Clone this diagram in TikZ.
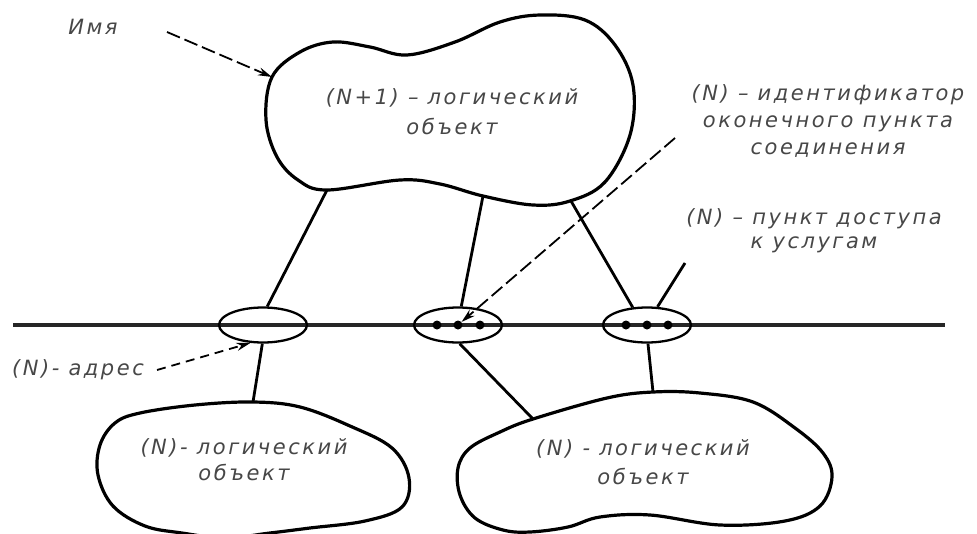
\documentclass[tikz,border=0pt]{standalone}
\usepackage{fontspec}
\setmainfont{DejaVu Sans}
\newfontfamily\lblfont{DejaVu Sans}[LetterSpace=12]
\usetikzlibrary{arrows.meta,shapes.geometric}
\begin{document}
\begin{tikzpicture}[x=1pt,y=-1pt,
  lbl/.style={font=\lblfont\itshape\fontsize{21}{29}\selectfont, text=black!72, align=center, inner sep=0pt},
  blob/.style={line width=3.2pt, line join=round},
  conn/.style={line width=2.8pt},
  ptr/.style={line width=1.8pt, dash pattern=on 14pt off 5pt, -{Stealth[length=14pt,width=8pt]}},
  port/.style={ellipse, draw, line width=2.3pt, minimum width=88pt, minimum height=35pt, inner sep=0pt},
  dotp/.style={circle, fill, inner sep=0pt, minimum size=9pt}]
\useasboundingbox (0,0) rectangle (977,533);

% bus line
\coordinate (busL) at (13,325);
\coordinate (busR) at (945,325);
\draw[line width=3.2pt, black!85] (busL) -- (busR);

% blobs
\draw[blob] plot[smooth cycle, tension=0.6] coordinates {
  (272,77) (300,52) (333,42) (370,47) (407,55) (455,42) (500,22) (540,15)
  (585,20) (615,45) (633,85) (630,135) (605,182) (570,201) (533,205)
  (483,196) (440,184) (400,180) (327,190) (298,180) (277,157) (266,120)};
\draw[blob] plot[smooth cycle, tension=0.6] coordinates {
  (253,402) (300,407) (350,426) (392,448) (409,478) (402,507) (365,521)
  (310,528) (270,533) (225,538) (182,533) (145,526) (113,506) (98,475)
  (100,445) (115,423) (140,413) (195,405)};
\draw[blob] plot[smooth cycle, tension=0.6] coordinates {
  (653,392) (700,393) (753,402) (795,428) (823,453) (832,477) (820,506)
  (785,521) (720,525) (650,515) (600,517) (568,527) (530,532) (503,530)
  (475,518) (460,495) (458,468) (470,448) (500,432) (533,419) (607,398)};

% ports
\node[port] (ellL) at (263,325) {};
\node[port] (ellM) at (458,325) {};
\node[port] (ellR) at (647,325) {};
\node[dotp] (m1) at (437,325) {};
\node[dotp] (m2) at (458,325) {};
\node[dotp] (m3) at (480,325) {};
\node[dotp] (r1) at (626,325) {};
\node[dotp] (r2) at (647,325) {};
\node[dotp] (r3) at (668,325) {};

% attachment points on blobs
\coordinate (topA) at (327,190);
\coordinate (topB) at (483,196);
\coordinate (topC) at (571,201);
\coordinate (botL) at (253,402);
\coordinate (botRa) at (533,419);
\coordinate (botRb) at (653,392);
\coordinate (topName) at (272,77);

% connectors
\draw[conn] (topA) -- (ellL.77);
\draw[conn] (topB) -- (ellM.80);
\draw[conn] (topC) -- (ellR.129);
\draw[conn] (ellL.-92) -- (botL);
\draw[conn] (ellM.-85) -- (botRa);
\draw[conn] (ellR.-87) -- (botRb);
\coordinate (sapEnd) at (685,263);
\draw[conn] (ellR.60) -- (sapEnd);

% labels
\node[lbl] (imya) at (93,27) {Имя};
\node[lbl, font=\lblfont\itshape\fontsize{21}{30}\selectfont] (topobj) at (452,112) {(N+1) – логический\\объект};
\node[lbl, font=\lblfont\itshape\fontsize{21}{27}\selectfont] (ident) at (828,121) {(N) – идентификатор\\оконечного пункта\\соединения};
\node[lbl, font=\lblfont\itshape\fontsize{21}{24}\selectfont] (sap) at (814,231) {(N) – пункт доступа\\к услугам};
\node[lbl] (adr) at (78,370) {(N)- адрес};
\node[lbl, font=\lblfont\itshape\fontsize{21}{26}\selectfont] (objL) at (244,460) {(N)- логический\\объект};
\node[lbl] (objR) at (643,462) {(N) - логический\\объект};

% pointers
\coordinate (imyaS) at (167,32);
\coordinate (identS) at (675,138);
\coordinate (adrS) at (157,370);
\draw[ptr] (imyaS) -- (topName);
\draw[ptr] (identS) -- (m2);
\draw[ptr, dash pattern=on 9pt off 6pt] (adrS) -- (ellL.-125);
\end{tikzpicture}
\end{document}
